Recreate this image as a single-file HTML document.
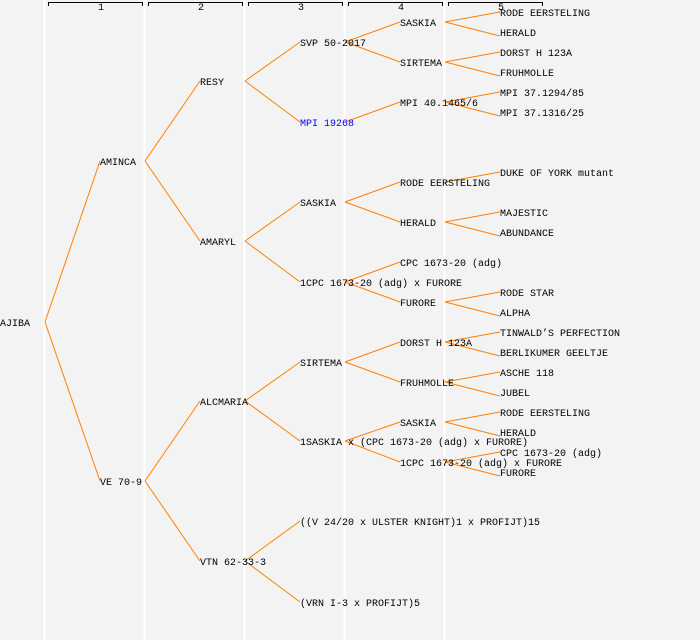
<!DOCTYPE html>
<html><head><style>
html,body{margin:0;padding:0;background:#f3f3f3;}
svg{display:block;}
text{font-family:"Liberation Mono","DejaVu Sans Mono",monospace;font-size:10px;fill:#000;}
</style></head><body>
<svg width="700" height="640" viewBox="0 0 700 640" xmlns="http://www.w3.org/2000/svg">
<rect width="700" height="640" fill="#f3f3f3"/>
<g stroke="#ffffff" stroke-width="2">
<line x1="44.5" y1="0" x2="44.5" y2="640"/><line x1="144.5" y1="0" x2="144.5" y2="640"/>
<line x1="244.5" y1="0" x2="244.5" y2="640"/><line x1="344.5" y1="0" x2="344.5" y2="640"/>
<line x1="444.5" y1="0" x2="444.5" y2="640"/>
</g>
<g stroke="#000" stroke-width="1" fill="none">
<path d="M48.5 6V2.5H142.5V6"/><path d="M148.5 6V2.5H242.5V6"/><path d="M248.5 6V2.5H342.5V6"/>
<path d="M348.5 6V2.5H442.5V6"/><path d="M448.5 6V2.5H542.5V6"/>
</g>
<g text-anchor="middle" style="font-size:8px">
<text x="101" y="10">1</text><text x="201" y="10">2</text><text x="301" y="10">3</text><text x="401" y="10">4</text><text x="501" y="10">5</text>
</g>
<g stroke="#ff8000" stroke-width="1" fill="none">
<path d="M45 322L100 161M45 322L100 481"/>
<path d="M145 161L200 81M145 161L200 241M145 481L200 401M145 481L200 561"/>
<path d="M245 81L300 42M245 81L300 122M245 241L300 202M245 241L300 282M245 401L300 362M245 401L300 441M245 561L300 521M245 561L300 602"/>
<path d="M345 42L400 22M345 42L400 62M345 122L400 102M345 202L400 182M345 202L400 222M345 282L400 262M345 282L400 302M345 362L400 342M345 362L400 382M345 441L400 422M345 441L400 462"/>
<path d="M445 22L500 12M445 22L500 36M445 62L500 52M445 62L500 76M445 102L500 92M445 102L500 116M445 182L500 172M445 222L500 212M445 222L500 236M445 302L500 292M445 302L500 316M445 342L500 332M445 342L500 356M445 382L500 372M445 382L500 396M445 422L500 412M445 422L500 436M445 462L500 452M445 462L500 476"/>
</g>
<g>
<text x="0" y="326">AJIBA</text>
<text x="100" y="165">AMINCA</text><text x="100" y="485">VE 70-9</text>
<text x="200" y="85">RESY</text><text x="200" y="245">AMARYL</text><text x="200" y="405">ALCMARIA</text><text x="200" y="565">VTN 62-33-3</text>
<text x="300" y="46">SVP 50-2017</text><text x="300" y="126" style="fill:#0000ff">MPI 19268</text>
<text x="300" y="206">SASKIA</text><text x="300" y="286">1CPC 1673-20 (adg) x FURORE</text>
<text x="300" y="366">SIRTEMA</text><text x="300" y="445">1SASKIA x (CPC 1673-20 (adg) x FURORE)</text>
<text x="300" y="525">((V 24/20 x ULSTER KNIGHT)1 x PROFIJT)15</text><text x="300" y="606">(VRN I-3 x PROFIJT)5</text>
<text x="400" y="26">SASKIA</text><text x="400" y="66">SIRTEMA</text><text x="400" y="106">MPI 40.1465/6</text>
<text x="400" y="186">RODE EERSTELING</text><text x="400" y="226">HERALD</text>
<text x="400" y="266">CPC 1673-20 (adg)</text><text x="400" y="306">FURORE</text>
<text x="400" y="346">DORST H 123A</text><text x="400" y="386">FRUHMOLLE</text>
<text x="400" y="426">SASKIA</text><text x="400" y="466">1CPC 1673-20 (adg) x FURORE</text>
<text x="500" y="16">RODE EERSTELING</text><text x="500" y="36">HERALD</text>
<text x="500" y="56">DORST H 123A</text><text x="500" y="76">FRUHMOLLE</text>
<text x="500" y="96">MPI 37.1294/85</text><text x="500" y="116">MPI 37.1316/25</text>
<text x="500" y="176">DUKE OF YORK mutant</text>
<text x="500" y="216">MAJESTIC</text><text x="500" y="236">ABUNDANCE</text>
<text x="500" y="296">RODE STAR</text><text x="500" y="316">ALPHA</text>
<text x="500" y="336">TINWALD’S PERFECTION</text><text x="500" y="356">BERLIKUMER GEELTJE</text>
<text x="500" y="376">ASCHE 118</text><text x="500" y="396">JUBEL</text>
<text x="500" y="416">RODE EERSTELING</text><text x="500" y="436">HERALD</text>
<text x="500" y="456">CPC 1673-20 (adg)</text><text x="500" y="476">FURORE</text>
</g>
</svg>
</body></html>
